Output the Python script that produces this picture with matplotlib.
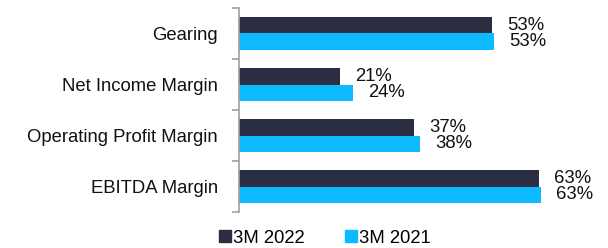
import matplotlib.pyplot as plt
import numpy as np
from matplotlib.patches import Patch

plt.rcParams['font.family'] = ['Liberation Sans', 'DejaVu Sans']

# data (bottom to top)
categories = ["EBITDA Margin", "Operating Profit Margin", "Net Income Margin", "Gearing"]
vals_2022 = [62.8, 36.8, 21.2, 53.0]
vals_2021 = [63.2, 37.9, 24.0, 53.4]
series_names = ["3M 2022", "3M 2021"]

dark = "#2b2d42"
cyan = "#0dbaff"
fs = 13.3

fig = plt.figure(figsize=(6.08, 2.48), dpi=100)
ax = fig.add_axes([238.5 / 608, 36 / 248, 358.5 / 608, 204 / 248])

y = np.arange(len(categories))
h = 0.333
ax.barh(y + h / 2, vals_2022, height=h, color=dark)
ax.barh(y - h / 2, vals_2021, height=h, color=cyan)

for yy, v in zip(y + h / 2, vals_2022):
    ax.annotate(f"{v:.0f}%", (v, yy), xytext=(11, 0), textcoords="offset points",
                ha="left", va="center", fontsize=fs, color="#111111")
for yy, v in zip(y - h / 2, vals_2021):
    ax.annotate(f"{v:.0f}%", (v, yy), xytext=(11, 0), textcoords="offset points",
                ha="left", va="center", fontsize=fs, color="#111111")

ax.set_xlim(0, 75)
ax.set_ylim(-0.5, len(categories) - 0.5)
ax.set_yticks(np.arange(len(categories) + 1) - 0.5)
ax.set_yticklabels([])
ax.set_yticks(y, minor=True)
ax.set_yticklabels(categories, minor=True, fontsize=fs, color="#111111")
ax.tick_params(axis="y", which="major", length=5, width=1.2, color="#a0a0a0")
ax.tick_params(axis="y", which="minor", length=0, pad=15)
ax.set_xticks([])
for s in ["top", "right", "bottom"]:
    ax.spines[s].set_visible(False)
ax.spines["left"].set_color("#a0a0a0")
ax.spines["left"].set_linewidth(1.2)

handles = [Patch(color=dark), Patch(color=cyan)]
fig.legend(handles, series_names, loc="lower center", bbox_to_anchor=(325 / 608, -0.062),
           ncol=2, frameon=False, fontsize=fs, handlelength=0.65, handleheight=0.65,
           handletextpad=0.1, columnspacing=2.2)

fig.savefig("out.png", dpi=100)
